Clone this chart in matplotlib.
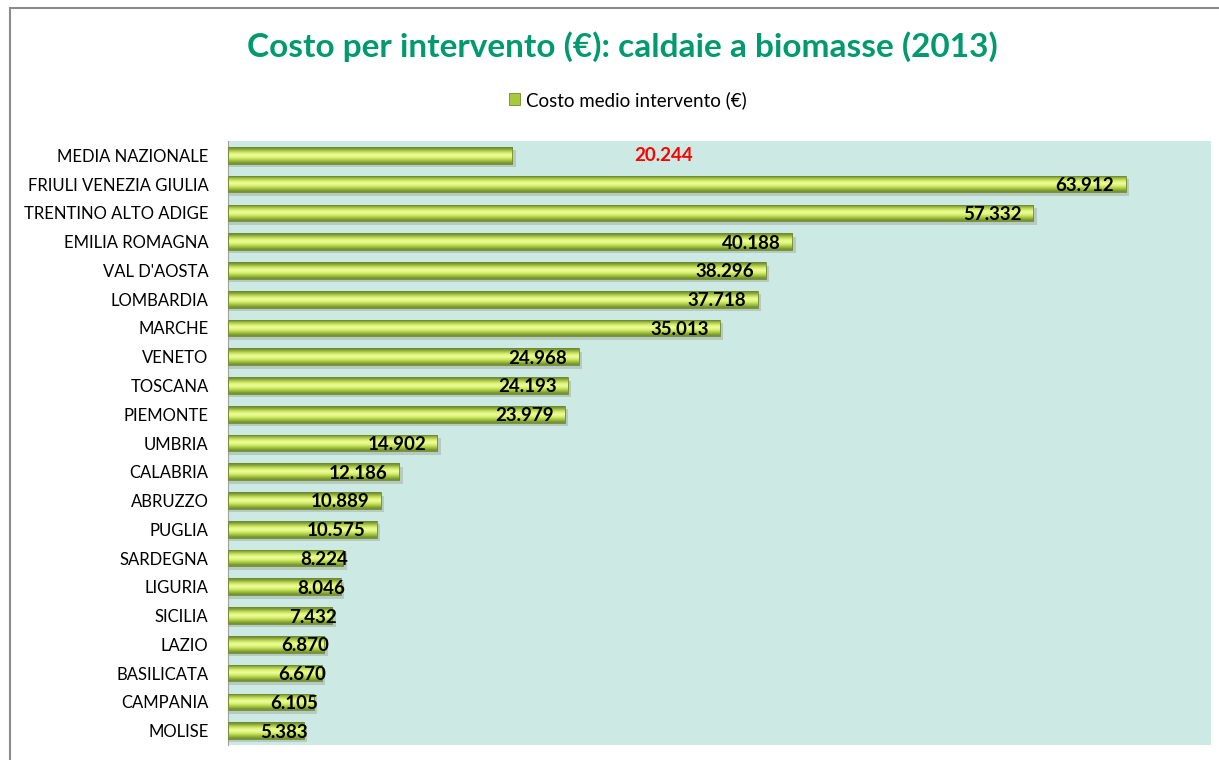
import numpy as np
import matplotlib
matplotlib.use("Agg")
import matplotlib.pyplot as plt
from matplotlib.patches import Rectangle, Patch

plt.rcParams['font.family'] = ['Lato', 'DejaVu Sans']

# data
regioni = ["MEDIA NAZIONALE", "FRIULI VENEZIA GIULIA", "TRENTINO ALTO ADIGE",
           "EMILIA ROMAGNA", "VAL D'AOSTA", "LOMBARDIA", "MARCHE", "VENETO",
           "TOSCANA", "PIEMONTE", "UMBRIA", "CALABRIA", "ABRUZZO", "PUGLIA",
           "SARDEGNA", "LIGURIA", "SICILIA", "LAZIO", "BASILICATA", "CAMPANIA",
           "MOLISE"]
costo = [20244, 63912, 57332, 40188, 38296, 37718, 35013, 24968, 24193, 23979,
         14902, 12186, 10889, 10575, 8224, 8046, 7432, 6870, 6670, 6105, 5383]
etichette = ["20.244", "63.912", "57.332", "40.188", "38.296", "37.718", "35.013",
             "24.968", "24.193", "23.979", "14.902", "12.186", "10.889", "10.575",
             "8.224", "8.046", "7.432", "6.870", "6.670", "6.105", "5.383"]

fig = plt.figure(figsize=(12.19, 7.6), dpi=100)
fig.patch.set_facecolor('white')

# outer chart frame (goes off the right and bottom edge)
fig.patches.append(Rectangle((10/1219, -0.05), 1.2, 1 - 8/760 + 0.05,
                             transform=fig.transFigure, fill=False,
                             edgecolor='#8c8c8c', linewidth=1.5))

ax = fig.add_axes([228/1219, 15/760, 983/1219, 604/760])
ax.set_facecolor('#cceae3')

n = len(regioni)
y = np.arange(n)
h = 0.58

# gradient for the 3D look of the bars
grad = np.array([
    [0.45, 0.55, 0.20],
    [0.58, 0.70, 0.24],
    [0.76, 0.86, 0.36],
    [0.88, 0.96, 0.50],
    [0.92, 0.99, 0.58],
    [0.86, 0.95, 0.48],
    [0.74, 0.85, 0.32],
    [0.60, 0.73, 0.24],
    [0.46, 0.58, 0.19],
])
grad_img = grad[:, None, :]

for i in range(n):
    # shadow
    sh = Rectangle((0, y[i] - h/2 + 0.12), costo[i] + 250, h,
                   facecolor='#9aa39a', alpha=0.45, edgecolor='none', zorder=1)
    ax.add_patch(sh)
    r = Rectangle((0, y[i] - h/2), costo[i], h, facecolor='none',
                  edgecolor='#6f8a2a', linewidth=0.6, zorder=3)
    ax.add_patch(r)
    im = ax.imshow(grad_img, extent=(0, costo[i], y[i] + h/2, y[i] - h/2),
                   aspect='auto', interpolation='bilinear', zorder=2)
    im.set_clip_path(r)

# value labels
for i in range(1, n):
    if costo[i] >= 9000:
        xt = costo[i] - 800
    else:
        xt = costo[i] + 300
    ax.text(xt, y[i] + 0.05, etichette[i], ha='right', va='center',
            fontsize=13.5, fontweight='bold', color='black', zorder=4)
ax.text(31000, y[0], etichette[0], ha='center', va='center', fontsize=13.5,
        fontweight='bold', color='red', zorder=4)

ax.set_xlim(0, 70000)
ax.set_ylim(n - 0.5, -0.5)
ax.set_yticks(y)
ax.set_yticklabels(regioni, fontsize=12)
ax.tick_params(axis='y', length=0, pad=14)
ax.set_xticks([])
for s in ['top', 'right', 'bottom']:
    ax.spines[s].set_visible(False)
ax.spines['left'].set_color('#a0a0a0')

fig.text(622/1219, 1 - 47/760, "Costo per intervento (€): caldaie a biomasse (2013)",
         ha='center', va='center', fontsize=24, fontweight='bold', color='#009a6e')

leg = fig.legend(handles=[Patch(facecolor='#a8c840', edgecolor='#6f8a2a', linewidth=0.6)],
                 labels=["Costo medio intervento (€)"], loc='center',
                 bbox_to_anchor=(628/1219, 1 - 100/760), frameon=False,
                 fontsize=13.5, handlelength=0.6, handleheight=0.6, handletextpad=0.3)

fig.savefig('out.png', dpi=100)
